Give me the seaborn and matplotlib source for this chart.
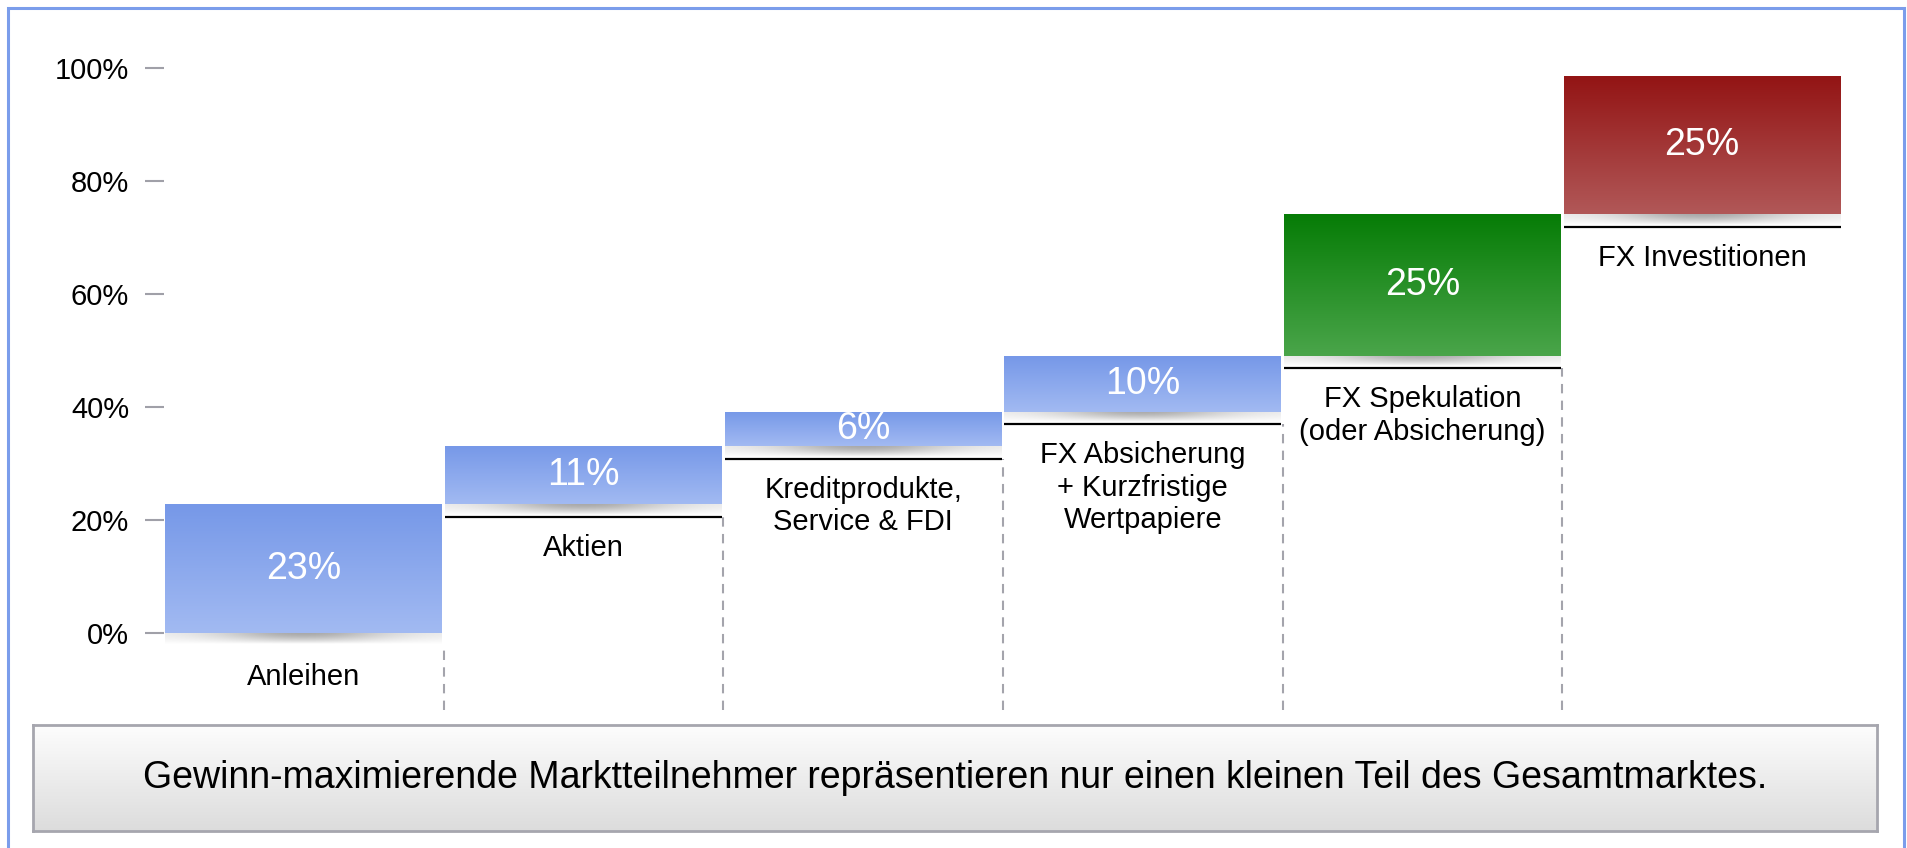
import numpy as np
import matplotlib
matplotlib.use("Agg")
import matplotlib.pyplot as plt
import matplotlib.colors as mcolors
from matplotlib.patches import Rectangle
import seaborn as sns
import pandas as pd

# data (cumulative "staircase" of market participants)
categories = ["Anleihen", "Aktien", "Kreditprodukte,\nService & FDI",
              "FX Absicherung\n+ Kurzfristige\nWertpapiere",
              "FX Spekulation\n(oder Absicherung)", "FX Investitionen"]
shares = [22.8, 10.3, 6.1, 9.9, 25.0, 24.4]
share_labels = ["23%", "11%", "6%", "10%", "25%", "25%"]
y_ticks = [0, 20, 40, 60, 80, 100]
caption = "Gewinn-maximierende Marktteilnehmer repräsentieren nur einen kleinen Teil des Gesamtmarktes."

# gradient colours (top, bottom) per bar
blue = ("#7698e8", "#a2baf2")
green = ("#067c06", "#4aa54a")
red = ("#931414", "#b15858")
bar_colors = [blue, blue, blue, blue, green, red]

starts = np.concatenate([[0], np.cumsum(shares)[:-1]])
df = pd.DataFrame({"kategorie": categories, "anteil": shares, "start": starts})

sns.set_theme(style="white")
plt.rcParams['font.family'] = ['Liberation Sans', 'DejaVu Sans']

W, H = 1907, 848
fig = plt.figure(figsize=(W / 100, H / 100), dpi=100)
fig.patch.set_facecolor("white")
ax = fig.add_axes([164 / W, 1 - 712.5 / H, (1842 - 164) / W, (712.5 - 39.7) / H])

sns.barplot(data=df, x="kategorie", y="anteil", bottom=df["start"].values,
            width=0.99, color="white", linewidth=0, ax=ax, zorder=1)

line_gap = 2.2   # black floor line below each bar
for i, p in enumerate(ax.patches[:len(shares)]):
    x0, w = p.get_x(), p.get_width()
    y0, h = p.get_y(), p.get_height()
    x1, y1 = x0 + w, y0 + h
    # vertical gradient fill
    c_top = np.array(mcolors.to_rgb(bar_colors[i][0]))
    c_bot = np.array(mcolors.to_rgb(bar_colors[i][1]))
    t = np.linspace(0, 1, 256)[:, None, None]
    grad = c_top * (1 - t) + c_bot * t
    im = ax.imshow(grad, extent=(x0, x1, y0, y1), aspect="auto", origin="upper", zorder=2)
    im.set_clip_path(p)
    # soft shadow under the bar
    u = np.linspace(-1, 1, 300)[None, :]
    v = np.linspace(0, 1, 40)[:, None]
    alpha = (0.55 * np.exp(-(u / 0.6) ** 2) + 0.12) * (1 - v ** 1.5)
    shadow = np.zeros((40, 300, 4))
    shadow[..., :3] = 0.5
    shadow[..., 3] = alpha
    ax.imshow(shadow, extent=(x0, x1, y0 - 1.9, y0), aspect="auto", origin="upper", zorder=1.5)
    floor = y0 - line_gap
    if i > 0:
        ax.hlines(floor, x0, x1, color="black", lw=1.6, zorder=3)
    if i < len(shares) - 1:
        ax.vlines(x1 + 0.005, -13.6, floor, color="#a4a4ac", lw=1.5,
                  linestyles=(0, (4.5, 3.5)), zorder=1)
    # value label and category label
    ax.text((x0 + x1) / 2, y0 + h / 2, share_labels[i], color="white",
            fontsize=27, ha="center", va="center", zorder=4)
    ax.text((x0 + x1) / 2, floor - 3.0, categories[i], color="black",
            fontsize=21, ha="center", va="top", linespacing=1.2, zorder=4)

ax.set_xlim(-0.5, len(shares) - 0.5)
ax.set_ylim(-14, 105)
ax.set_xticks([])
ax.set_xlabel("")
ax.set_ylabel("")
ax.set_yticks(y_ticks)
ax.set_yticklabels([f"{t}%" for t in y_ticks])
ax.tick_params(axis="y", left=True, length=13.7, width=1.5, color="#a0a0a8",
               pad=11.5, labelsize=21, labelcolor="black")
for s in ax.spines.values():
    s.set_visible(False)
ax.set_facecolor("none")

# caption box with grey gradient
cax = fig.add_axes([33 / W, 1 - 831 / H, (1877 - 33) / W, (831 - 725) / H])
g = np.linspace(0, 1, 256)[:, None, None]
box = np.array(mcolors.to_rgb("#fdfdfd")) * (1 - g) + np.array(mcolors.to_rgb("#dcdcdc")) * g
cax.imshow(box, extent=(0, 1, 0, 1), aspect="auto", origin="upper")
cax.set_xlim(0, 1)
cax.set_ylim(0, 1)
cax.set_xticks([])
cax.set_yticks([])
for s in cax.spines.values():
    s.set_color("#a6a6ae")
    s.set_linewidth(2)
cax.text(0.5, 0.5, caption, fontsize=27, ha="center", va="center", color="black")

# outer blue frame
fig.add_artist(Rectangle((8 / W, -0.05), (1904 - 8) / W, 1 - 8 / H + 0.05,
                         transform=fig.transFigure, fill=False,
                         edgecolor="#7b9deb", lw=2.2))

fig.savefig("out.png", dpi=100)
plt.close()
